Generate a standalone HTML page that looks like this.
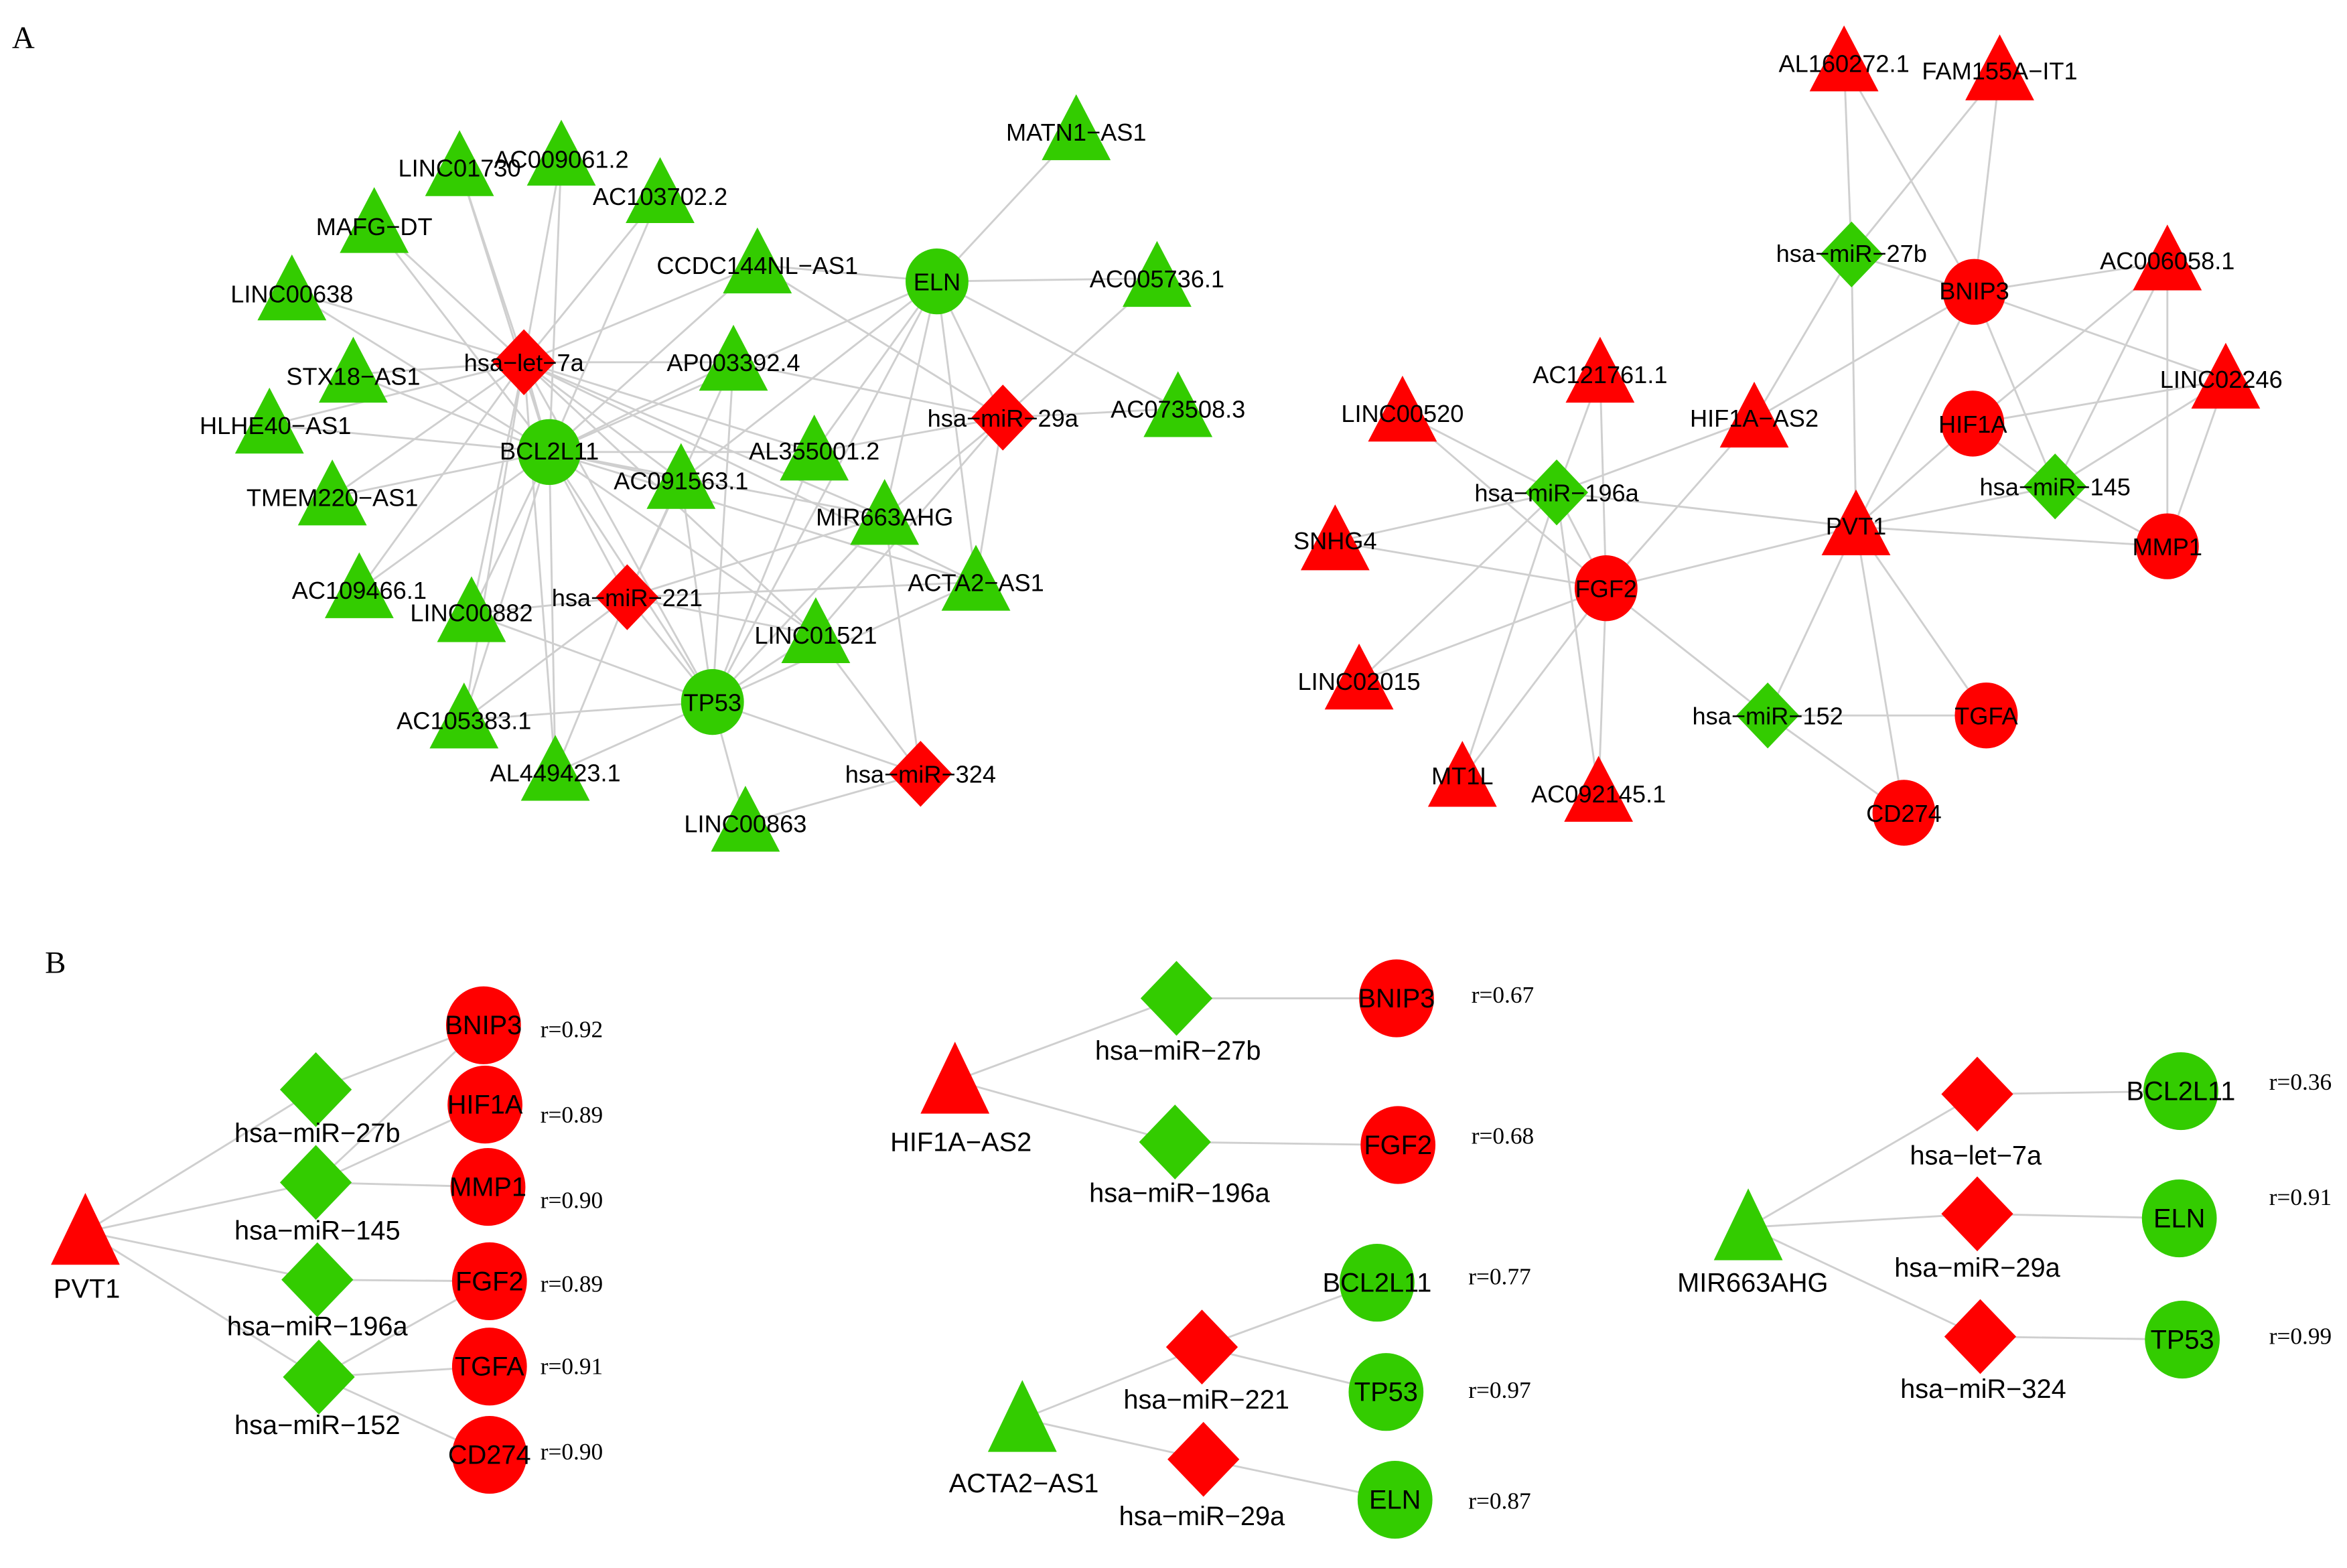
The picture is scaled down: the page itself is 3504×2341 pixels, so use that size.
<!DOCTYPE html>
<html><head><meta charset="utf-8"><style>
html,body{margin:0;padding:0;background:#fff}
svg{display:block}
.l{font-family:"Liberation Sans",sans-serif;font-size:16.2px;fill:#000;text-anchor:middle}
.b{font-family:"Liberation Sans",sans-serif;font-size:17.8px;fill:#000;text-anchor:middle}
.r{font-family:"Liberation Serif",serif;font-size:15.8px;fill:#000}
.p{font-family:"Liberation Serif",serif;font-size:21px;fill:#000}
</style></head><body>
<svg id="s" xmlns="http://www.w3.org/2000/svg" width="3504" height="2341" viewBox="0 0 1568 1047.6">
<rect width="1568" height="1048" fill="#fff"/>
<g id="E" stroke="#cfcfcf" stroke-width="1.3" fill="none"></g>
<g id="N"></g>
<g id="T">
<text class="p" x="8" y="32">A</text>
<text class="p" x="30" y="650">B</text>
<text class="l" x="307" y="118">LINC01730</text>
<text class="l" x="375" y="112">AC009061.2</text>
<text class="l" x="441" y="137">AC103702.2</text>
<text class="l" x="250" y="157">MAFG−DT</text>
<text class="l" x="195" y="202">LINC00638</text>
<text class="l" x="236" y="257">STX18−AS1</text>
<text class="l" x="184" y="290">HLHE40−AS1</text>
<text class="l" x="222" y="338">TMEM220−AS1</text>
<text class="l" x="240" y="400">AC109466.1</text>
<text class="l" x="315" y="415">LINC00882</text>
<text class="l" x="310" y="487">AC105383.1</text>
<text class="l" x="371" y="522">AL449423.1</text>
<text class="l" x="498" y="556">LINC00863</text>
<text class="l" x="476" y="475">TP53</text>
<text class="l" x="419" y="405">hsa−miR−221</text>
<text class="l" x="367" y="307">BCL2L11</text>
<text class="l" x="350" y="248">hsa−let−7a</text>
<text class="l" x="506" y="183">CCDC144NL−AS1</text>
<text class="l" x="490" y="248">AP003392.4</text>
<text class="l" x="455" y="327">AC091563.1</text>
<text class="l" x="544" y="307">AL355001.2</text>
<text class="l" x="591" y="351">MIR663AHG</text>
<text class="l" x="652" y="395">ACTA2−AS1</text>
<text class="l" x="545" y="430">LINC01521</text>
<text class="l" x="615" y="523">hsa−miR−324</text>
<text class="l" x="670" y="285">hsa−miR−29a</text>
<text class="l" x="626" y="194">ELN</text>
<text class="l" x="719" y="94">MATN1−AS1</text>
<text class="l" x="773" y="192">AC005736.1</text>
<text class="l" x="787" y="279">AC073508.3</text>
<text class="l" x="1232" y="48">AL160272.1</text>
<text class="l" x="1336" y="53">FAM155A−IT1</text>
<text class="l" x="1237" y="175">hsa−miR−27b</text>
<text class="l" x="1319" y="200">BNIP3</text>
<text class="l" x="1448" y="180">AC006058.1</text>
<text class="l" x="1484" y="259">LINC02246</text>
<text class="l" x="1318" y="289">HIF1A</text>
<text class="l" x="1373" y="331">hsa−miR−145</text>
<text class="l" x="1448" y="371">MMP1</text>
<text class="l" x="1240" y="357">PVT1</text>
<text class="l" x="1172" y="285">HIF1A−AS2</text>
<text class="l" x="1069" y="256">AC121761.1</text>
<text class="l" x="937" y="282">LINC00520</text>
<text class="l" x="1040" y="335">hsa−miR−196a</text>
<text class="l" x="892" y="367">SNHG4</text>
<text class="l" x="1073" y="399">FGF2</text>
<text class="l" x="908" y="461">LINC02015</text>
<text class="l" x="977" y="524">MT1L</text>
<text class="l" x="1068" y="536">AC092145.1</text>
<text class="l" x="1181" y="484">hsa−miR−152</text>
<text class="l" x="1327" y="484">TGFA</text>
<text class="l" x="1272" y="549">CD274</text>
<text class="b" x="58" y="867">PVT1</text>
<text class="b" x="212" y="763">hsa−miR−27b</text>
<text class="b" x="212" y="828">hsa−miR−145</text>
<text class="b" x="212" y="892">hsa−miR−196a</text>
<text class="b" x="212" y="958">hsa−miR−152</text>
<text class="b" x="323" y="691">BNIP3</text>
<text class="b" x="324" y="744">HIF1A</text>
<text class="b" x="326" y="799">MMP1</text>
<text class="b" x="327" y="862">FGF2</text>
<text class="b" x="327" y="919">TGFA</text>
<text class="b" x="327" y="978">CD274</text>
<text class="r" x="361" y="693">r=0.92</text>
<text class="r" x="361" y="750">r=0.89</text>
<text class="r" x="361" y="807">r=0.90</text>
<text class="r" x="361" y="863">r=0.89</text>
<text class="r" x="361" y="918">r=0.91</text>
<text class="r" x="361" y="975">r=0.90</text>
<text class="b" x="642" y="769">HIF1A−AS2</text>
<text class="b" x="787" y="708">hsa−miR−27b</text>
<text class="b" x="788" y="803">hsa−miR−196a</text>
<text class="b" x="933" y="673">BNIP3</text>
<text class="b" x="934" y="771">FGF2</text>
<text class="r" x="983" y="670">r=0.67</text>
<text class="r" x="983" y="764">r=0.68</text>
<text class="b" x="684" y="997">ACTA2−AS1</text>
<text class="b" x="806" y="941">hsa−miR−221</text>
<text class="b" x="803" y="1019">hsa−miR−29a</text>
<text class="b" x="920" y="863">BCL2L11</text>
<text class="b" x="926" y="936">TP53</text>
<text class="b" x="932" y="1008">ELN</text>
<text class="r" x="981" y="858">r=0.77</text>
<text class="r" x="981" y="934">r=0.97</text>
<text class="r" x="981" y="1008">r=0.87</text>
<text class="b" x="1171" y="863">MIR663AHG</text>
<text class="b" x="1320" y="778">hsa−let−7a</text>
<text class="b" x="1321" y="853">hsa−miR−29a</text>
<text class="b" x="1325" y="934">hsa−miR−324</text>
<text class="b" x="1457" y="735">BCL2L11</text>
<text class="b" x="1456" y="820">ELN</text>
<text class="b" x="1458" y="901">TP53</text>
<text class="r" x="1516" y="728">r=0.36</text>
<text class="r" x="1516" y="805">r=0.91</text>
<text class="r" x="1516" y="898">r=0.99</text>
</g>
<script>
(function(){
var G="#33cc00",R="#ff0000";
var N=[
["L01730","t",307,112,G,1],["AC0090","t",375,105,G,1],["AC1037","t",441,130,G,1],["MAFG","t",250,150,G,1],
["L00638","t",195,195,G,1],["STX18","t",236,250,G,1],["BHLHE","t",180,284,G,1],["TMEM","t",222,332,G,1],
["AC1094","t",240,394,G,1],["L00882","t",315,410,G,1],["AC1053","t",310,481,G,1],["AL4494","t",371,516,G,1],
["L00863","t",498,550,G,1],["TP53","c",476,469,G,1],["m221","d",419,399,R,1],["BCL","c",367,302,G,1],
["let7","d",350,242,R,1],["CCDC","t",506,177,G,1],["AP0033","t",490,242,G,1],["AC0915","t",455,321,G,1],
["AL3550","t",544,302,G,1],["MIR663","t",591,345,G,1],["ACTA2","t",652,389,G,1],["L01521","t",545,424,G,1],
["m324","d",615,517,R,1],["m29a","d",670,279,R,1],["ELN","c",626,188,G,1],["MATN1","t",719,88,G,1],
["AC0057","t",773,186,G,1],["AC0735","t",787,273,G,1],
["AL1602","t",1232,42,R,1],["FAM","t",1336,48,R,1],["m27b","d",1237,170,G,1],["BNIP3","c",1319,195,R,1],
["AC0060","t",1448,175,R,1],["L02246","t",1487,254,R,1],["HIF1A","c",1318,283,R,1],["m145","d",1373,325,G,1],
["MMP1","c",1448,365,R,1],["PVT1","t",1240,352,R,1],["HAS2","t",1172,280,R,1],["AC1217","t",1069,250,R,1],
["L00520","t",937,276,R,1],["m196","d",1040,329,G,1],["SNHG4","t",892,362,R,1],["FGF2","c",1073,393,R,1],
["L02015","t",908,455,R,1],["MT1L","t",977,520,R,1],["AC0921","t",1068,530,R,1],["m152","d",1181,478,G,1],
["TGFA","c",1327,478,R,1],["CD274","c",1272,543,R,1],
["bP","t",57,823,R,2],["b27","d",211,728,G,2],["b145","d",211,790,G,2],["b196","d",212,855,G,2],["b152","d",213,920,G,2],
["bBN","c",323,685,R,2],["bHI","c",324,738,R,2],["bMM","c",326,793,R,2],["bFG","c",327,856,R,2],["bTG","c",327,913,R,2],["bCD","c",327,972,R,2],
["bH","t",638,722,R,2],["bh27","d",786,667,G,2],["bh196","d",785,763,G,2],["bhBN","c",933,667,R,2],["bhFG","c",934,765,R,2],
["bA","t",683,948,G,2],["ba221","d",803,900,R,2],["ba29","d",804,975,R,2],["baBC","c",920,857,G,2],["baTP","c",926,930,G,2],["baEL","c",932,1002,G,2],
["bM","t",1168,820,G,2],["bmL7","d",1321,731,R,2],["bm29","d",1321,811,R,2],["bm324","d",1323,893,R,2],["bmBC","c",1457,729,G,2],["bmEL","c",1456,814,G,2],["bmTP","c",1458,895,G,2]
];
var E="let7:L01730 let7:AC0090 let7:AC1037 let7:MAFG let7:L00638 let7:STX18 let7:BHLHE let7:TMEM let7:AC1094 let7:L00882 let7:AL4494 let7:CCDC let7:AP0033 let7:AL3550 let7:AC0915 let7:MIR663 let7:BCL let7:TP53 let7:ACTA2 let7:L01521 let7:AC1053 "+
"BCL:L01730 BCL:AC0090 BCL:AC1037 BCL:MAFG BCL:L00638 BCL:STX18 BCL:BHLHE BCL:TMEM BCL:AC1094 BCL:L00882 BCL:AC1053 BCL:AL4494 BCL:CCDC BCL:AP0033 BCL:AL3550 BCL:AC0915 BCL:MIR663 BCL:ACTA2 BCL:L01521 BCL:m221 BCL:ELN BCL:TP53 "+
"m221:AC0915 m221:ACTA2 m221:L00882 m221:AC1053 m221:AL4494 m221:TP53 m221:L01521 m221:MIR663 m221:AP0033 "+
"TP53:L00882 TP53:AC1053 TP53:AL4494 TP53:L00863 TP53:AC0915 TP53:AP0033 TP53:AL3550 TP53:MIR663 TP53:L01521 TP53:ACTA2 TP53:m324 TP53:ELN "+
"m324:L00863 m324:MIR663 m324:L01521 m29a:AL3550 m29a:ACTA2 m29a:MIR663 m29a:ELN m29a:AC0735 m29a:CCDC m29a:AP0033 m29a:L01521 m29a:AC0057 "+
"ELN:MATN1 ELN:AC0057 ELN:CCDC ELN:AL3550 ELN:AC0735 ELN:MIR663 ELN:AC0915 ELN:ACTA2 "+
"m27b:AL1602 m27b:FAM m27b:BNIP3 m27b:PVT1 m27b:HAS2 AL1602:BNIP3 FAM:BNIP3 BNIP3:AC0060 BNIP3:L02246 BNIP3:HAS2 BNIP3:PVT1 BNIP3:m145 "+
"AC0060:HIF1A AC0060:m145 AC0060:MMP1 L02246:HIF1A L02246:m145 L02246:MMP1 HIF1A:m145 HIF1A:PVT1 m145:PVT1 m145:MMP1 PVT1:MMP1 "+
"PVT1:m196 PVT1:FGF2 PVT1:m152 PVT1:TGFA PVT1:CD274 m196:L00520 m196:AC1217 m196:HAS2 m196:SNHG4 m196:FGF2 m196:L02015 m196:MT1L m196:AC0921 "+
"FGF2:L00520 FGF2:AC1217 FGF2:HAS2 FGF2:SNHG4 FGF2:L02015 FGF2:MT1L FGF2:AC0921 FGF2:m152 m152:TGFA m152:CD274 "+
"bP:b27 bP:b145 bP:b196 bP:b152 b27:bBN b145:bBN b145:bHI b145:bMM b196:bFG b152:bFG b152:bTG b152:bCD "+
"bH:bh27 bH:bh196 bh27:bhBN bh196:bhFG bA:ba221 bA:ba29 ba221:baBC ba221:baTP ba29:baEL "+
"bM:bmL7 bM:bm29 bM:bm324 bmL7:bmBC bm29:bmEL bm324:bmTP";
var M={};N.forEach(function(n){M[n[0]]=n;});
var ns="http://www.w3.org/2000/svg",eg=document.getElementById("E"),ng=document.getElementById("N");
E.split(" ").forEach(function(p){var a=M[p.split(":")[0]],b=M[p.split(":")[1]];if(!a||!b)return;
var l=document.createElementNS(ns,"line");l.setAttribute("x1",a[2]);l.setAttribute("y1",a[3]);l.setAttribute("x2",b[2]);l.setAttribute("y2",b[3]);eg.appendChild(l);});
N.forEach(function(n){var x=n[2],y=n[3],s=n[5]==2,e;
if(n[1]=="c"){e=document.createElementNS(ns,"ellipse");e.setAttribute("cx",x);e.setAttribute("cy",y);e.setAttribute("rx",s?25:21);e.setAttribute("ry",s?26:22);}
else if(n[1]=="d"){var h=s?25:22,w=s?24:21;e=document.createElementNS(ns,"polygon");e.setAttribute("points",x+","+(y-h)+" "+(x+w)+","+y+" "+x+","+(y+h)+" "+(x-w)+","+y);}
else{var hw=23,t=s?26:25,bt=s?22:19;e=document.createElementNS(ns,"polygon");e.setAttribute("points",x+","+(y-t)+" "+(x+hw)+","+(y+bt)+" "+(x-hw)+","+(y+bt));}
e.setAttribute("fill",n[4]);ng.appendChild(e);});
})();
</script>
</svg>
</body></html>
